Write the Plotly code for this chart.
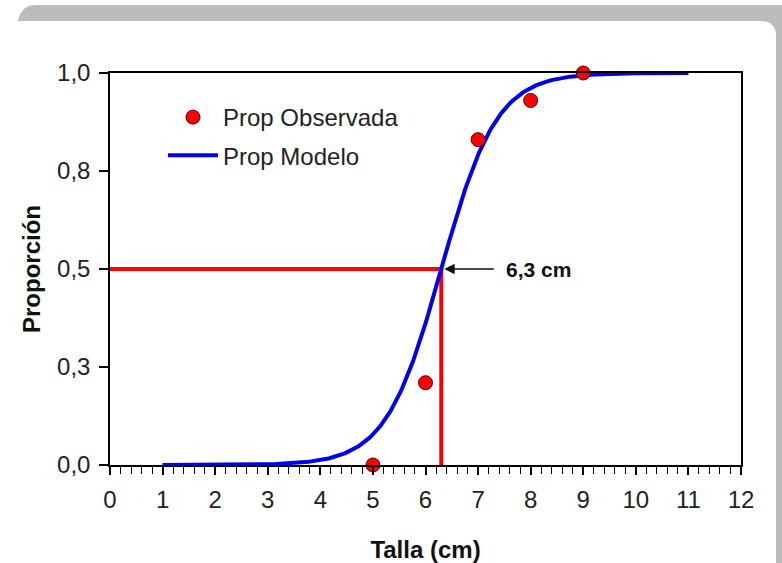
import numpy as np
import plotly.graph_objects as go

# Observed proportion of mature individuals by size class
talla_obs = [5, 6, 7, 8, 9]
prop_obs = [0.0, 0.21, 0.83, 0.93, 1.0]

# Logistic maturity model parameters
L50 = 6.3          # size at 50% maturity (cm)
pendiente = 1.9    # slope of the logistic curve
talla_min, talla_max = 1, 11

# Axis ticks
x_ticks = list(range(0, 13))
y_tickvals = [0.0, 0.25, 0.5, 0.75, 1.0]
y_ticktext = ["0,0", "0,3", "0,5", "0,8", "1,0"]

talla_mod = np.linspace(talla_min, talla_max, 401)
prop_mod = 1.0 / (1.0 + np.exp(-pendiente * (talla_mod - L50)))

W, H = 782, 563
ML, MR, MT, MB = 110, 41, 73, 98
PW, PH = W - ML - MR, H - MT - MB


def px(x):
    return (x - ML) / PW


def py(y):
    return (H - MB - y) / PH


FONT = "Liberation Sans, Arial, sans-serif"

fig = go.Figure()

# Reference lines at the size of 50% maturity
fig.add_trace(go.Scatter(
    x=[0, L50, L50], y=[0.5, 0.5, 0.0], mode="lines",
    line=dict(color="#ff0000", width=4), showlegend=False, hoverinfo="skip",
    cliponaxis=False,
))

fig.add_trace(go.Scatter(
    x=talla_mod, y=prop_mod, mode="lines", name="Prop Modelo",
    legendgroup="modelo", legendrank=2,
    line=dict(color="#0000ee", width=4), cliponaxis=False,
))

fig.add_trace(go.Scatter(
    x=talla_obs, y=prop_obs, mode="markers", name="Prop Observada",
    legendgroup="obs", legendrank=1,
    marker=dict(color="#ff0000", size=14, line=dict(color="#5a0000", width=1)),
    cliponaxis=False,
))

# Arrow pointing to the L50 intersection
fig.add_annotation(
    x=L50, y=0.5, xref="x", yref="y", text="", showarrow=True,
    ax=54, ay=0, arrowhead=2, arrowsize=1.3, arrowwidth=1.6,
    arrowcolor="#111111", standoff=3,
)
fig.add_annotation(
    x=L50, y=0.5, xref="x", yref="y",
    text="<b>" + f"{L50:.1f}".replace(".", ",") + " cm</b>",
    showarrow=False, xanchor="left", yanchor="middle", xshift=63,
    font=dict(family=FONT, size=21, color="#111111"),
)

# Panel frame: grey top bar and right edge
frame_path = (
    f"M {px(18)},{py(21)} Q {px(21)},{py(5)} {px(36)},{py(5)} "
    f"L {px(782)},{py(5)} L {px(782)},{py(563)} L {px(776)},{py(563)} "
    f"L {px(776)},{py(36)} Q {px(776)},{py(21)} {px(760)},{py(21)} Z"
)
fig.add_shape(type="path", path=frame_path, xref="paper", yref="paper",
              fillcolor="#bcbcbc", line=dict(width=0), layer="below")

fig.update_layout(
    width=W, height=H,
    margin=dict(l=ML, r=MR, t=MT, b=MB, pad=0, autoexpand=False),
    paper_bgcolor="white", plot_bgcolor="white",
    font=dict(family=FONT, size=24, color="#222222"),
    legend=dict(
        x=px(163), y=py(95), xanchor="left", yanchor="top",
        bgcolor="rgba(0,0,0,0)", font=dict(size=24, color="#222222"),
        itemwidth=50, tracegroupgap=4,
    ),
    xaxis=dict(
        range=[0, 12], tickvals=x_ticks, ticks="outside", ticklen=8,
        tickwidth=1.5, tickcolor="black", showline=True, linecolor="black",
        linewidth=1.5, mirror=True, showgrid=False, zeroline=False,
        tickfont=dict(size=24, color="#222222"), ticklabelstandoff=4,
        automargin=False,
        minor=dict(dtick=0.2, ticks="outside", ticklen=7, tickwidth=1,
                   tickcolor="black", showgrid=False),
        title=dict(text="<b>Talla (cm)</b>", standoff=30,
                   font=dict(size=24, color="#111111")),
    ),
    yaxis=dict(
        range=[0, 1], tickvals=y_tickvals, ticktext=y_ticktext,
        ticks="outside", ticklen=9, tickwidth=1.5, tickcolor="black",
        showline=True, linecolor="black", linewidth=1.5, mirror=True,
        showgrid=False, zeroline=False, ticklabelstandoff=4,
        tickfont=dict(size=24, color="#222222"), automargin=False,
        title=dict(text="<b>Proporción</b>", standoff=10,
                   font=dict(size=24, color="#111111")),
    ),
)

fig.write_html("out.html")
